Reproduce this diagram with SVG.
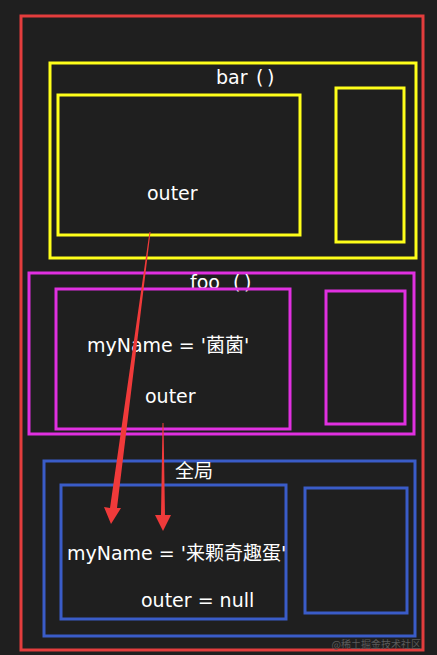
<svg xmlns="http://www.w3.org/2000/svg" width="437" height="655" viewBox="0 0 437 655">
<style>
.t{font-family:"DejaVu Sans","Noto Sans CJK SC",sans-serif;font-size:19px;fill:#ffffff}
.r{fill:none;stroke-width:3}
.y{stroke:#ffff1a}.m{stroke:#e030e0}.b{stroke:#3a5cc8}
.arr{fill:#f03a3a}
</style>
<rect width="437" height="655" fill="#1f1f1f"/>
<g id="outer"><rect class="r" x="21" y="16" width="402" height="634" stroke="#e33d3d"/></g>
<g id="bar">
<rect class="r y" x="50" y="63" width="366" height="195"/>
<text class="t" x="216" y="84">bar<tspan x="256">(</tspan><tspan x="267">)</tspan></text>
<rect class="r y" x="58" y="95" width="242" height="140"/>
<text class="t" x="147" y="200">outer</text>
<rect class="r y" x="336" y="88" width="68" height="154"/>
</g>
<g id="foo">
<rect class="r m" x="29" y="273" width="385" height="161"/>
<text class="t" x="190" y="289">foo<tspan x="233">(</tspan><tspan x="244">)</tspan></text>
<rect class="r m" x="56" y="289" width="234" height="140"/>
<text class="t" x="87" y="352">myName = '菌菌'</text>
<text class="t" x="145" y="403">outer</text>
<rect class="r m" x="326" y="291" width="79" height="133"/>
</g>
<g id="global">
<rect class="r b" x="44" y="461" width="371" height="175"/>
<text class="t" x="175" y="478">全局</text>
<rect class="r b" x="61" y="485" width="225" height="134"/>
<text class="t" x="67" y="560">myName = '来颗奇趣蛋'</text>
<text class="t" x="141" y="607">outer = null</text>
<rect class="r b" x="305" y="488" width="102" height="125"/>
</g>
<g id="connectors">
<path class="arr" d="M149.5 232 L150.5 232 L117 508 L121 508 L111 524 L104 507 L110 508 Z"/>
<path class="arr" d="M162.5 423 L163.5 423 L165 515 L171 515 L163 531 L155 515 L161 515 Z"/>
</g>
<text x="421" y="648" text-anchor="end" style="font-family:'Noto Sans CJK SC',sans-serif;font-size:10px;fill:#5a5a5a">@稀土掘金技术社区</text>
</svg>
